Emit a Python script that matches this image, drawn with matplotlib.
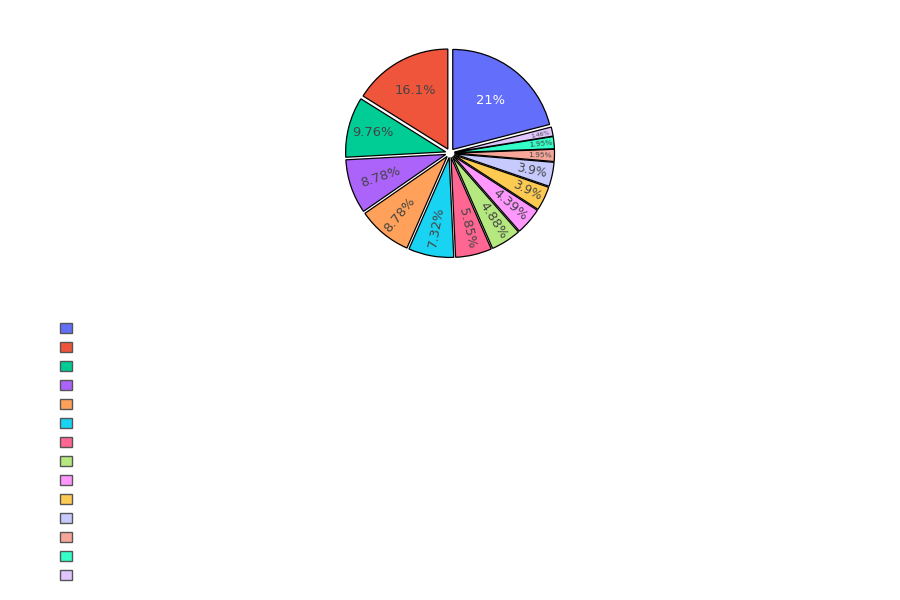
import numpy as np
import matplotlib
matplotlib.use("Agg")
import matplotlib.pyplot as plt

# slice counts (shares 21%, 16.1%, ... 1.46% of 205)
counts = [43, 33, 20, 18, 18, 15, 12, 10, 9, 8, 8, 4, 4, 3]
colors = ['#636EFA', '#EF553B', '#00CC96', '#AB63FA', '#FFA15A', '#19D3F3',
          '#FF6692', '#B6E880', '#FF97FF', '#FECB52',
          '#C6CAFD', '#F7A799', '#33FFC9', '#E0C6FD']
legend_labels = [''] * len(counts)

# per-slice label styling
label_radius = [0.66, 0.71, 0.80, 0.73, 0.80, 0.75, 0.77, 0.80, 0.79, 0.86, 0.84, 0.90, 0.91, 0.92]
label_px = [13, 13, 13, 13, 13, 13, 13, 13, 13, 12, 12, 7.5, 7.5, 6]
radial = [False, False, False, True, True, True, True, True, True, True, True, True, True, True]
text_colors = ['white'] + ['#444444'] * 13

fig = plt.figure(figsize=(9, 6), dpi=100)
ax = fig.add_axes([(450 - 110) / 900, (600 - 153 - 110) / 600, 220 / 900, 220 / 600])

total = sum(counts)
start = 90 - 360 * counts[0] / total

wedges, texts = ax.pie(counts, colors=colors, startangle=start, counterclock=True,
                       radius=1.0, explode=[0.045] * len(counts),
                       wedgeprops=dict(edgecolor='black', linewidth=0.9))

pct = [100 * c / total for c in counts]
for i, w in enumerate(wedges):
    mid = np.deg2rad((w.theta1 + w.theta2) / 2)
    r = label_radius[i]
    s = f"{pct[i]:.3g}%"
    rot = 0
    if radial[i]:
        deg = np.rad2deg(mid) % 360
        rot = deg - 180 if deg > 90 and deg < 270 else (deg - 360 if deg > 180 else deg)
    ax.text(r * np.cos(mid), r * np.sin(mid), s, ha='center', va='center',
            rotation=rot, rotation_mode='anchor', fontsize=label_px[i] * 0.72,
            color=text_colors[i])

ax.set_xlim(-1.1, 1.1)
ax.set_ylim(-1.1, 1.1)
ax.set_aspect('equal')
ax.axis('off')

leg = fig.legend(wedges, legend_labels, loc='upper left', bbox_to_anchor=(54 / 900, 1 - 316 / 600),
                 frameon=False, fontsize=9, handlelength=0.95, handleheight=0.95,
                 labelspacing=0.48, handletextpad=0.3, borderpad=0)
for h in leg.legend_handles:
    h.set_edgecolor('#555555')
    h.set_linewidth(1)

fig.savefig('out.png', dpi=100)
